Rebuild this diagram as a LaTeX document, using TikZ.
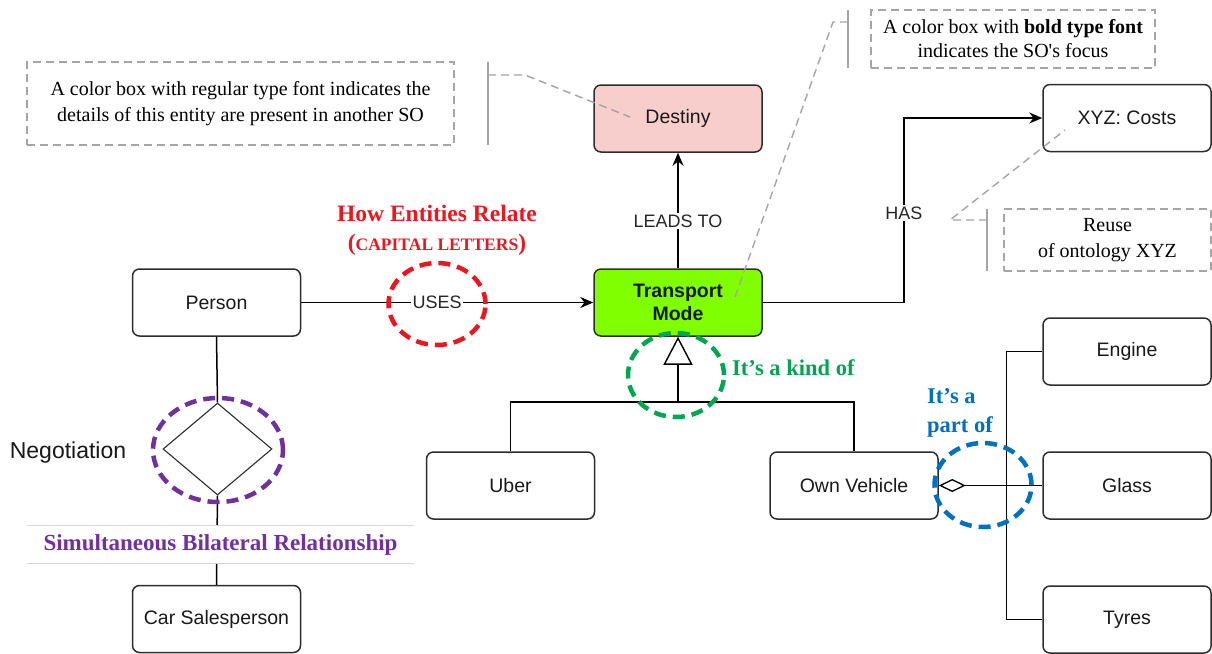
\documentclass[tikz,border=0pt]{standalone}
\usepackage{fontspec}
\setmainfont{Liberation Serif}
\setsansfont{Liberation Sans}
\usetikzlibrary{arrows.meta,shapes.geometric}

\definecolor{boxline}{RGB}{45,45,45}
\definecolor{pinkfill}{RGB}{248,206,204}
\definecolor{limefill}{RGB}{128,255,0}
\definecolor{notegray}{RGB}{165,165,165}
\definecolor{ringred}{RGB}{236,22,30}
\definecolor{ringgreen}{RGB}{0,166,80}
\definecolor{ringblue}{RGB}{0,112,192}
\definecolor{ringpurple}{RGB}{112,48,160}
\definecolor{rulegray}{RGB}{215,215,215}

\begin{document}
\begin{tikzpicture}[x=1pt,y=-1pt,
  entity/.style={draw=boxline, line width=1.5pt, rounded corners=7pt,
    minimum width=168pt, minimum height=67pt, inner sep=0pt, fill=white,
    align=center, text=black!90, font=\sffamily\fontsize{19.5}{23}\selectfont},
  link/.style={draw=black, line width=1.5pt},
  arr/.style={link, -{Stealth[length=13pt,width=11pt]}},
  rellabel/.style={fill=white, inner sep=1.5pt, text=black!85,
    font=\sffamily\fontsize{18}{20}\selectfont},
  ring/.style={ellipse, draw=#1, line width=4.5pt, dash pattern=on 12pt off 7pt,
    inner sep=0pt},
  notebox/.style={draw=notegray, line width=1.4pt, dash pattern=on 8pt off 5pt,
    align=center, inner sep=0pt, font=\fontsize{20}{26}\selectfont},
  notedash/.style={draw=notegray, line width=1.4pt, dash pattern=on 8pt off 5pt},
  notebar/.style={draw=notegray, line width=1.4pt},
  remark/.style={font=\bfseries\fontsize{22.5}{29}\selectfont, inner sep=0pt}
]
\useasboundingbox (0,0) rectangle (1212,653);
\fill[white] (0,0) rectangle (1212,653);

% entities
\node[entity, fill=pinkfill] (destiny) at (678,118.5) {Destiny};
\node[entity, fill=limefill, font=\sffamily\bfseries\fontsize{19.5}{23}\selectfont] (transport) at (678,302.5) {Transport\\Mode};
\node[entity] (costs) at (1127,118) {XYZ: Costs};
\node[entity] (person) at (216.5,302.5) {Person};
\node[entity] (uber) at (510.5,485.5) {Uber};
\node[entity] (own) at (854,485.5) {Own Vehicle};
\node[entity] (engine) at (1127,351.5) {Engine};
\node[entity] (glass) at (1127,485.5) {Glass};
\node[entity] (tyres) at (1127,619.5) {Tyres};
\node[entity] (seller) at (216.5,619) {Car Salesperson};

% negotiation relationship
\node[diamond, draw=boxline, line width=1.1pt, minimum width=109pt, minimum height=92pt, inner sep=0pt] (nego) at (217.5,449) {};
\node[font=\sffamily\fontsize{23}{26}\selectfont, text=black!90] (negolbl) at (68,453) {Negotiation};
\draw[link] (person.south) -- (nego.north);
\draw[link] (nego.south) -- (seller.north);
\node[fill=white, minimum width=387pt, minimum height=37pt, inner sep=0pt, text=ringpurple,
  font=\bfseries\fontsize{23}{24}\selectfont] (bilateral) at (220.5,544.5) {Simultaneous Bilateral Relationship};
\draw[rulegray, line width=0.8pt] (bilateral.north west) -- (bilateral.north east);
\draw[rulegray, line width=0.8pt] (bilateral.south west) -- (bilateral.south east);
\node[ring=ringpurple, minimum width=130pt, minimum height=104pt] (negoring) at (218,450) {};

% USES
\draw[arr] (person.east) -- node[rellabel, pos=0.465] (uses) {USES} (transport.west);
\node[ring=ringred, minimum width=97pt, minimum height=82pt] (usesring) at (437,304) {};
\node[remark, text=ringred, align=center, font=\bfseries\fontsize{23.5}{29}\selectfont] (relate) at (437,230)
  {How Entities Relate\\{\fontsize{23.5}{29}\selectfont(}{\fontsize{17.5}{20}\selectfont CAPITAL LETTERS}{\fontsize{23.5}{29}\selectfont)}};

% LEADS TO
\draw[arr] (transport.north) -- node[rellabel, pos=0.41] (leads) {LEADS TO} (destiny.south);

% HAS
\draw[arr] (transport.east) -- ++(141,0) |- node[rellabel, pos=0.243] (has) {HAS} (costs.west);

% kind-of hierarchy
\coordinate (kindjoin) at (678,402);
\draw[link, {Triangle[open, length=28pt, width=29pt, line width=1.4pt]}-] (transport.south) -- (kindjoin);
\draw[link] (uber.north) |- (kindjoin) -| (own.north);
\node[ring=ringgreen, minimum width=96pt, minimum height=84pt] (kindring) at (676,375) {};
\node[remark, text=ringgreen, anchor=west] (kindlbl) at (732,368) {It’s a kind of};

% part-of composition
\draw[link, {Diamond[open, length=27pt, width=13pt, line width=1.3pt]}-] (own.east) -- (glass.west);
\draw[link] (engine.west) -- ++(-36,0) |- (tyres.west);
\node[ring=ringblue, minimum width=97pt, minimum height=84pt] (partring) at (983,485) {};
\node[remark, text=ringblue, anchor=west, align=left] (partlbl) at (927,413) {It’s a\\part of};

% annotations
\node[notebox, minimum width=427pt, minimum height=83pt] (noteA) at (240.5,103.5)
  {A color box with regular type font indicates the\\details of this entity are present in another SO};
\draw[notebar] (488,62) -- (488,145);
\draw[notedash] (488,75) -- (525,75) -- (630,117);

\node[notebox, minimum width=284pt, minimum height=58pt, font=\fontsize{20}{24}\selectfont] (noteB) at (1013,39)
  {A color box with \textbf{bold type font}\\indicates the SO\textquotesingle s focus};
\draw[notebar] (848,10) -- (848,68);
\draw[notedash] (848,22) -- (833,22) -- (735,297);

\node[notebox, minimum width=207pt, minimum height=62pt] (noteC) at (1107.5,240)
  {Reuse\\of ontology XYZ};
\draw[notebar] (987,209) -- (987,271);
\draw[notedash] (987,220) -- (950,220) -- (1065,130);
\end{tikzpicture}
\end{document}
